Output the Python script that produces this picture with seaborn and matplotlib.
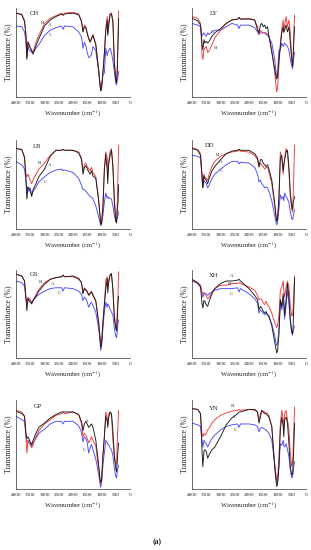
import numpy as np
import pandas as pd
import matplotlib
matplotlib.use("Agg")
import matplotlib.pyplot as plt
import seaborn as sns

# ---------------- data ----------------
wavenumber = [4000, 3800, 3700, 3650, 3620, 3580, 3550, 3500, 3450, 3400,
              3300, 3200, 3000, 2800, 2600, 2400, 2350, 2300, 2000, 1800,
              1700, 1650, 1600, 1550, 1500, 1450, 1400, 1350, 1300, 1200,
              1100, 1050, 1030, 1000, 950, 900, 850, 800, 780, 750,
              700, 650, 600, 550, 500, 470, 450, 420, 400]

panels = ["CH", "LY", "LB", "DD", "GS", "XH", "GP", "YN"]
series = ["A", "B", "C"]

CH_A = [96,94,86,70,42,62,60,55,52,48, 58,66,81,88,92,95,94,95,96,94, 86,74,80,79,72,66,62,66,70,59, 29,12,5,7,26,48,75,88,70,80, 94,95,85,37,18,15,25,60,90]
CH_B = [96,95,88,70,45,63,60,56,53,50, 62,70,84,90,93,96,93,96,97,95, 87,75,82,80,73,67,63,67,71,60, 30,13,6,8,28,50,78,92,72,85, 96,96,88,40,20,18,30,70,99]
CH_C = [81,80,74,62,44,58,53,52,50,50, 55,59,70,76,79,81,77,81,80,74, 68,55,62,58,50,44,45,48,57,52, 28,12,6,8,24,26,55,46,50,52, 55,50,40,28,14,12,18,22,28]

LY_A = [90,87,82,61,53,65,61,63,61,63, 69,73,78,84,88,89,91,89,89,88, 76,73,82,84,80,82,78,80,69,50, 31,21,19,21,42,57,73,80,74,76, 82,74,80,61,42,34,46,69,80]
LY_B = [92,90,84,48,42,53,55,57,50,52, 59,67,76,84,88,89,91,89,90,88, 80,71,76,74,73,73,73,71,69,53, 27,11,4,8,34,61,78,88,73,82, 92,80,88,73,42,34,46,80,94]
LY_C = [84,82,80,69,71,73,71,69,73,71, 74,76,76,80,84,82,78,82,82,79, 74,71,73,73,73,73,71,70,68,61, 42,27,21,23,53,53,61,57,59,61, 59,57,53,42,34,31,38,46,50]

LB_A = [92,91,81,55,33,47,46,42,36,44, 51,59,68,83,90,90,91,90,90,87, 79,62,70,72,68,65,62,66,60,57, 31,12,4,4,23,66,85,66,51,73, 84,90,70,29,7,5,18,30,50]
LB_B = [92,91,83,62,59,62,59,55,51,55, 62,68,75,84,90,90,91,90,90,88, 81,66,73,75,71,68,66,70,64,59, 33,14,5,5,25,70,88,81,62,77, 88,92,73,36,10,7,25,66,96]
LB_C = [77,73,68,55,44,47,42,46,38,42, 47,53,59,64,67,68,66,67,64,57, 49,44,44,42,40,38,36,35,33,25, 12,5,2,3,14,29,40,34,36,34, 34,33,25,14,7,9,10,14,18]

DD_A = [92,90,84,62,46,60,57,55,51,57, 66,71,79,86,89,90,91,90,90,86, 81,71,79,79,75,73,71,73,68,55, 29,12,7,9,33,81,84,66,73,79, 88,90,70,40,25,21,29,33,36]
DD_B = [93,91,86,59,47,62,59,57,55,62, 71,77,83,86,88,89,91,89,88,84, 79,70,75,73,71,68,70,70,64,51, 25,12,7,9,36,88,81,62,70,81, 92,88,66,36,21,18,36,73,96]
DD_C = [84,83,81,59,47,55,53,51,46,49, 57,62,68,73,77,77,74,76,75,70, 62,53,55,51,49,46,47,46,42,31, 14,5,3,5,21,38,33,36,31,40, 36,33,29,18,10,9,12,18,21]

GS_A = [97,95,89,68,54,68,66,64,62,66, 71,77,85,91,93,94,96,94,95,92, 87,74,80,78,76,72,74,76,72,65, 40,20,11,13,39,60,79,92,75,87, 96,98,79,45,33,30,41,64,71]
GS_B = [97,95,89,68,62,70,68,66,64,66, 73,79,87,91,93,94,96,94,94,91, 87,75,81,79,77,73,75,77,73,66, 41,22,14,16,41,62,90,94,83,90, 96,96,79,49,37,33,49,75,100]
GS_C = [89,87,83,68,66,68,68,67,63,66, 70,73,77,80,81,81,77,81,80,77, 73,66,70,68,64,58,62,64,60,52, 33,18,7,11,33,52,64,58,62,60, 56,52,49,33,24,22,28,39,43]

XH_A = [91,87,82,63,57,66,65,61,59,65, 74,80,86,89,89,90,91,89,80,72, 67,55,59,57,53,51,53,49,48,36, 17,8,4,6,25,67,59,74,67,48, 67,86,70,44,29,27,36,67,93]
XH_B = [90,87,84,76,74,75,74,71,68,70, 76,80,84,84,86,86,87,86,82,78, 72,67,68,67,63,61,65,61,59,51, 40,36,34,36,48,78,82,89,78,70, 82,89,82,59,48,48,59,82,95]
XH_C = [89,86,82,74,70,75,74,74,72,74, 76,78,80,80,80,81,76,80,74,68, 63,51,55,53,51,49,51,49,46,38, 25,15,13,15,32,63,55,67,59,44, 59,78,63,40,27,25,30,34,36]

GP_A = [89,86,83,63,57,59,57,53,50,55, 63,70,75,81,85,88,88,88,88,85, 77,66,74,77,74,70,72,74,70,55, 26,9,6,7,37,59,83,77,70,81, 88,86,66,37,22,18,29,44,52]
GP_B = [90,88,83,59,40,55,52,50,46,50, 59,66,74,79,84,86,88,86,88,85, 74,59,63,61,57,52,55,59,55,48, 22,7,4,6,37,59,88,81,74,85, 88,85,55,37,26,29,52,74,90]
GP_C = [83,79,77,59,53,55,53,52,48,52, 57,63,68,74,77,77,74,77,77,72, 64,53,59,57,52,40,46,50,44,33, 15,4,0,4,26,40,55,52,50,50, 46,44,37,22,13,11,18,22,26]

YN_A = [92,91,86,44,24,42,44,42,34,38, 44,47,59,73,81,86,88,88,91,91, 88,75,82,90,88,86,86,84,82,71, 24,7,1,3,24,67,82,71,59,79, 82,75,51,24,14,16,28,55,75]
YN_B = [92,91,86,63,59,63,61,63,67,69, 75,79,84,87,89,90,91,90,91,90, 88,77,86,90,89,88,87,86,84,71, 28,12,7,9,36,75,90,79,67,86, 90,79,67,40,24,28,44,75,94]
YN_C = [75,73,71,55,47,55,53,51,47,51, 57,61,67,71,73,74,70,74,74,73, 71,65,69,70,69,68,67,65,63,55, 28,12,7,5,24,51,49,55,49,47, 51,44,36,20,11,12,18,26,30]

xticks = [4000, 3500, 3000, 2500, 2000, 1500, 1000, 500, 0]
xlabel = "Wavenumber (cm$^{-1}$)"
ylabel = "Transmittance (%)"

data = {
    "CH": (CH_A, CH_B, CH_C), "LY": (LY_A, LY_B, LY_C),
    "LB": (LB_A, LB_B, LB_C), "DD": (DD_A, DD_B, DD_C),
    "GS": (GS_A, GS_B, GS_C), "XH": (XH_A, XH_B, XH_C),
    "GP": (GP_A, GP_B, GP_C), "YN": (YN_A, YN_B, YN_C),
}

rows = []
for p in panels:
    for s, vals in zip(series, data[p]):
        for w, v in zip(wavenumber, vals):
            rows.append({"panel": p, "series": s, "wn": w, "T": v})
df = pd.DataFrame(rows)

# ---------------- style / layout ----------------
sns.set_theme(style="white")
plt.rcParams["font.family"] = ["Liberation Serif", "DejaVu Serif"]
plt.rcParams["mathtext.fontset"] = "stix"

palette = {"A": "#1a1a1a", "B": "#f03a3a", "C": "#4a4aff"}

fig = plt.figure(figsize=(3.11, 5.50), dpi=100)
W, H = 311.0, 550.0
col_left = [16, 192]
row_tb = [(8, 97), (140, 229), (270, 358), (400, 489)]
ax_w = 114

name_pos = {"CH": (3360, 96), "LY": (3250, 95), "LB": (3270, 94), "DD": (3400, 96),
            "GS": (3360, 97), "XH": (3250, 95), "GP": (3235, 94), "YN": (3250, 92)}
label_pos = {
    "CH": [("B", 3070, 85), ("A", 2820, 82), ("C", 2780, 70)],
    "LY": [("C", 3300, 74), ("B", 3190, 55)],
    "LB": [("B", 3190, 75), ("A", 2810, 73), ("C", 2960, 53)],
    "DD": [("B", 3100, 84), ("A", 2980, 76), ("C", 2960, 66)],
    "GS": [("B", 3130, 88), ("A", 2725, 86), ("C", 2460, 75)],
    "XH": [("A", 2590, 95), ("B", 2670, 86), ("C", 2630, 74)],
    "GP": [("A", 1530, 78), ("C", 1600, 44)],
    "YN": [("B", 2590, 95), ("A", 2520, 82), ("C", 2470, 67)],
}

for i, p in enumerate(panels):
    r, c = divmod(i, 2)
    top, bot = row_tb[r]
    ax = fig.add_axes([col_left[c] / W, 1 - bot / H, ax_w / W, (bot - top) / H])
    sub = df[df.panel == p]
    for s in ["C", "B", "A"]:
        ss = sub[sub.series == s]
        sns.lineplot(data=ss, x="wn", y="T", ax=ax, color=palette[s],
                     linewidth=0.65, sort=False, estimator=None, legend=False)
    ax.set_xlim(4000, 0)
    ax.set_ylim(-2, 102)
    ax.set_xticks(xticks)
    ax.set_xticklabels([str(t) for t in xticks], fontsize=3.7)
    ax.set_yticks([])
    ax.tick_params(axis="x", direction="out", length=1.5, width=0.4, pad=1.5, colors="#222222")
    for sp in ["top", "right"]:
        ax.spines[sp].set_visible(False)
    for sp in ["left", "bottom"]:
        ax.spines[sp].set_linewidth(0.5)
        ax.spines[sp].set_color("#333333")
    ax.set_xlabel(xlabel, fontsize=4.8, labelpad=2)
    ax.set_ylabel(ylabel, fontsize=5.6, labelpad=3)
    nx, ny = name_pos[p]
    ax.text(nx, ny, p, fontsize=4.8, ha="center", va="center", color="#222222")
    for lab, lx, ly in label_pos[p]:
        ax.text(lx, ly, lab, fontsize=3.7, ha="center", va="center", color="#333333")

fig.text(157 / W, 1 - 542 / H, "(a)", fontsize=5.5, fontweight="bold", ha="center", va="center")

fig.savefig("out.png", dpi=100, facecolor="white")
